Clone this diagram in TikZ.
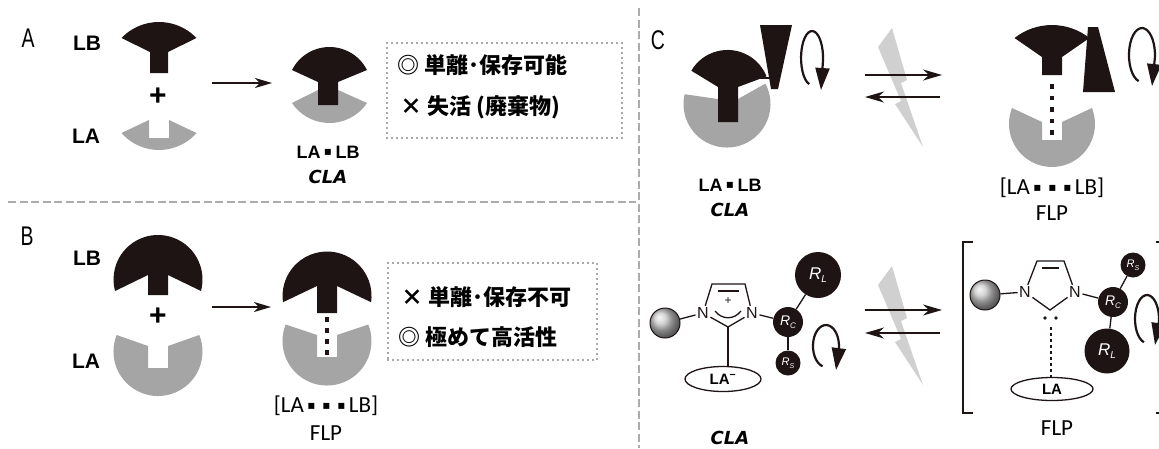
\documentclass[tikz,border=0pt]{standalone}
\usepackage{fontspec}
\setmainfont{Liberation Sans}
\newfontfamily\jpfont{Noto Sans CJK JP}
\newfontfamily\calfont{Carlito}
\newfontfamily\dvfont{DejaVu Sans}
\newfontfamily\panelfont[FakeStretch=0.72]{Liberation Sans}
\usetikzlibrary{arrows.meta,shapes.geometric}

\definecolor{ink}{RGB}{30,20,20}
\definecolor{lagray}{RGB}{165,165,165}
\definecolor{boltgray}{RGB}{208,208,208}
\definecolor{divgray}{RGB}{172,172,172}
\definecolor{boxdot}{RGB}{80,80,80}

\newcommand\fs[1]{\fontsize{#1}{#1}\selectfont}
\newcommand\sqdot{\makebox[15pt]{\raisebox{3pt}{\dvfont\fs{12}▪}}}
\newcommand\lowsub[2]{\raisebox{-3pt}{\fs{#1}#2}}

\begin{document}
\begin{tikzpicture}[x=1pt,y=-1pt,
  panel/.style={font=\panelfont\fs{27}, inner sep=0pt},
  lbl/.style={font=\bfseries\fs{21}, inner sep=0pt},
  cplx/.style={font=\bfseries\fs{18}, inner sep=0pt},
  flp/.style={font=\calfont\fs{23}, inner sep=0pt},
  cla/.style={font=\dvfont\bfseries\itshape\fs{18}, inner sep=0pt},
  jp/.style={font=\jpfont\bfseries\fs{22}, inner sep=0pt, anchor=west},
  dotbox/.style={draw=boxdot, line width=1.6pt, dash pattern=on 0pt off 5pt, line cap=round, inner sep=0pt},
  divider/.style={draw=divgray, line width=2.4pt, dash pattern=on 8pt off 3.5pt},
  rxn/.style={draw=ink, line width=1.5pt, -{Stealth[length=17pt,width=10pt,inset=5pt]}},
  eqarrow/.style={draw=ink, line width=1.5pt, -{Stealth[length=19pt,width=11pt,inset=6pt]}},
  spin/.style={draw=ink, line width=2.2pt, -{Triangle[length=22pt,width=14pt]}},
  bond/.style={draw=ink, line width=1.3pt},
  dotbond/.style={draw=ink, line width=4.5pt},
  atom/.style={font=\fs{16}, inner sep=1.5pt, text=ink},
  sphere/.style={circle, draw=ink, line width=1pt, minimum size=30pt, inner sep=0pt, ball color=black!22},
  grp/.style={circle, fill=ink, inner sep=0pt, text=white},
  acid/.style={ellipse, draw=ink, line width=1.3pt, inner sep=0pt},
  bolt/.style={fill=boltgray}
]
\useasboundingbox (0,0) rectangle (1159,448);
\fill[white] (0,0) rectangle (1159,448);
\clip (0,0) rectangle (1159,448);

% ---------- dividers ----------
\coordinate (hl) at (8,202);
\coordinate (hr) at (636,202);
\draw[divider] (hl) -- (hr);
\coordinate (vt) at (639,8);
\coordinate (vb) at (639,448);
\draw[divider] (vt) -- (vb);

% ---------- panel letters ----------
\node[panel] (pA) at (28,38) {A};
\node[panel] (pB) at (27,236) {B};
\node[panel] (pC) at (658,40) {C};

% ---------- panel A ----------
\node[lbl] (lbA) at (87,43) {LB};
\node[lbl] (laA) at (86,136) {LA};
\node[font=\bfseries\fs{30}, inner sep=0pt] (plusA) at (158,97) {+};
% base (fan) and acid (cup)
\fill[ink] (121.5,38) arc[start angle=-136.2, end angle=-43.8, radius=51.95]
  -- (168,52) -- (168,73) -- (150,73) -- (150,52) -- cycle;
\fill[lagray] (196.5,133) arc[start angle=41.3, end angle=138.7, radius=49.9]
  -- (149,120) -- (149,138) -- (169,138) -- (169,120) -- cycle;
\coordinate (arA1) at (212,83);
\coordinate (arA2) at (272,83);
\draw[rxn] (arA1) -- (arA2);
% adduct
\fill[lagray] (367,103) arc[start angle=33.9, end angle=146.1, radius=45.2]
  -- (318,90) -- (338,90) -- cycle;
\fill[ink] (292,70) arc[start angle=-153.05, end angle=-26.95, radius=42.07]
  -- (338,82) -- (338,105) -- (318,105) -- (318,82) -- cycle;
\node[cplx] (claA) at (328,152) {LA\sqdot LB};
\node[cla] (claAi) at (328,177) {CLA};
\node[dotbox, minimum width=235pt, minimum height=95pt] (boxA) at (504.5,90.5) {};
\node[jp] (tA1) at (397,65) {◎ 単離･保存可能};
\node[jp] (tA2) at (400,107) {× 失活 (廃棄物)};

% ---------- panel B ----------
\node[lbl] (lbB) at (87,258) {LB};
\node[lbl] (laB) at (86,361) {LA};
\node[font=\bfseries\fs{30}, inner sep=0pt] (plusB) at (158,317) {+};
\fill[ink] (201,291) arc[start angle=15, end angle=-195, radius=44.5]
  -- (148,275) -- (148,295) -- (168,295) -- (168,275) -- cycle;
\fill[lagray] (199.3,335) arc[start angle=-21.8, end angle=201.8, radius=44.5]
  -- (148,346) -- (148,368) -- (168,368) -- (168,346) -- cycle;
\coordinate (arB1) at (212,307);
\coordinate (arB2) at (271,307);
\draw[rxn] (arB1) -- (arB2);
% frustrated pair
\fill[lagray] (368.3,324.5) arc[start angle=-21.8, end angle=201.8, radius=44.5]
  -- (317,335) -- (317,357) -- (337,357) -- (337,335) -- cycle;
\fill[ink] (371.1,302.2) arc[start angle=8, end angle=-188, radius=44.5]
  -- (317,286) -- (317,313) -- (337,313) -- (337,286) -- cycle;
\coordinate (dB1) at (327,317);
\coordinate (dB2) at (327,355);
\draw[dotbond, dash pattern=on 4.5pt off 6.5pt] (dB1) -- (dB2);
\node[flp] (flpB1) at (326,406) {[LA\sqdot\sqdot\sqdot LB]};
\node[flp] (flpB2) at (326,433) {FLP};
\node[dotbox, minimum width=209pt, minimum height=97pt] (boxB) at (492.5,311.5) {};
\node[jp] (tB1) at (401,297) {× 単離･保存不可};
\node[jp] (tB2) at (398,337) {◎ 極めて高活性};

% ---------- panel C, cartoon row ----------
% classical adduct with a bulky substituent
\fill[lagray] (765.4,83.6) arc[start angle=-28, end angle=193, radius=43.5]
  -- (718,99) -- (738,99) -- cycle;
\fill[ink] (691.3,70.7) arc[start angle=-149.6, end angle=-21.8, radius=42]
  -- (738,87) -- (738,122) -- (718,122) -- (718,87) -- cycle;
\fill[ink] (760,25) -- (792,25) -- (778,89) -- (771,89) -- cycle;
\coordinate (lk1a) at (758,78);
\coordinate (lk1b) at (775,78);
\draw[ink, line width=2pt] (lk1a) -- (lk1b);
\coordinate (sp1) at (821,90);
\draw[spin] (809.2,84.1) arc[start angle=105, end angle=365, x radius=11, y radius=27] -- (sp1);
\node[cplx] (claC) at (730,185) {LA\sqdot LB};
\node[cla] (claCi) at (730,210) {CLA};

% equilibrium with lightning
\fill[bolt] (892,28) -- (907,80) -- (901,83) -- (923,147) -- (895,104) -- (901,101) -- (878,47) -- cycle;
\coordinate (e1a) at (865,75);
\coordinate (e1b) at (942,75);
\coordinate (e2a) at (940,97);
\coordinate (e2b) at (865,97);
\draw[eqarrow] (e1a) -- (e1b);
\draw[eqarrow] (e2a) -- (e2b);

% frustrated pair with the substituent turned away
\fill[lagray] (1091.9,108) arc[start angle=-21.8, end angle=201.8, radius=43]
  -- (1042,122) -- (1042,140) -- (1062,140) -- (1062,122) -- cycle;
\fill[ink] (1014.5,38) arc[start angle=-128.2, end angle=-51.8, radius=60.6]
  -- (1062,57) -- (1062,75) -- (1042,75) -- (1042,57) -- cycle;
\coordinate (dC1) at (1052,84);
\coordinate (dC2) at (1052,136);
\draw[dotbond, dash pattern=on 4.5pt off 7pt] (dC1) -- (dC2);
\fill[ink] (1088,27) -- (1098,27) -- (1115,92) -- (1083,92) -- cycle;
\coordinate (lk2a) at (1080,39);
\coordinate (lk2b) at (1092,39);
\draw[ink, line width=2pt] (lk2a) -- (lk2b);
\coordinate (sp2) at (1152,86);
\draw[spin] (1138.6,81.1) arc[start angle=105, end angle=365, x radius=13, y radius=27] -- (sp2);
\node[flp] (flpC1) at (1052,188) {[LA\sqdot\sqdot\sqdot LB]};
\node[flp] (flpC2) at (1052,213) {FLP};

% ---------- panel C, molecular row ----------
% imidazolium adduct
\node[sphere] (s1) at (665,323) {};
\node[atom] (n1) at (703,313) {N};
\node[atom] (n3) at (752,313) {N};
\coordinate (c4) at (712,284);
\coordinate (c5) at (745,284);
\coordinate (c2) at (728,327);
\coordinate (db1) at (718,291);
\coordinate (db2) at (739,291);
\draw[bond] (s1) -- (n1);
\draw[bond] (n1) -- (c4) -- (c5) -- (n3);
\draw[bond] (db1) -- (db2);
\draw[bond] (n1) -- (c2) -- (n3);
\coordinate (dl1) at (715,311);
\coordinate (dl2) at (741,311);
\draw[bond] (dl1) .. controls (722,320) and (734,320) .. (dl2);
\node[font=\fs{12}, inner sep=0pt, text=ink] (chg) at (728,301) {+};
\node[acid, minimum width=76pt, minimum height=25pt, font=\bfseries\fs{15}] (lam) at (723,379) {LA\textsuperscript{−}};
\draw[bond] (c2) -- (c2 |- lam.north);
\node[grp, minimum size=30pt, font=\itshape\fs{14}] (rc1) at (788,322) {R\lowsub{8}{C}};
\node[grp, minimum size=46pt, font=\itshape\fs{17}] (rl1) at (818,275) {R\lowsub{10}{L}};
\node[grp, minimum size=25pt, font=\itshape\fs{11}] (rs1) at (788,363) {R\lowsub{7}{S}};
\draw[bond] (n3) -- (rc1);
\draw[bond] (rc1) -- (rl1);
\draw[bond] (rc1) -- (rs1);
\coordinate (sp3) at (836,370);
\draw[spin] (822.6,366.3) arc[start angle=105, end angle=365, x radius=13, y radius=21] -- (sp3);
\node[cla] (claM) at (730,438) {CLA};

% equilibrium with lightning
\begin{scope}[shift={(0,238)}]
\fill[bolt] (892,28) -- (907,80) -- (901,83) -- (923,147) -- (895,104) -- (901,101) -- (878,47) -- cycle;
\end{scope}
\coordinate (e3a) at (865,310);
\coordinate (e3b) at (942,310);
\coordinate (e4a) at (940,333);
\coordinate (e4b) at (865,333);
\draw[eqarrow] (e3a) -- (e3b);
\draw[eqarrow] (e4a) -- (e4b);

% free carbene and acid
\coordinate (bk1) at (973,242);
\coordinate (bk2) at (963,242);
\coordinate (bk3) at (963,413);
\coordinate (bk4) at (973,413);
\draw[bond, line width=1.5pt] (bk1) -- (bk2) -- (bk3) -- (bk4);
\coordinate (bk5) at (1156,242);
\coordinate (bk6) at (1163,242);
\coordinate (bk7) at (1163,413);
\coordinate (bk8) at (1156,413);
\draw[bond, line width=1.5pt] (bk5) -- (bk6) -- (bk7) -- (bk8);
\node[sphere] (s2) at (985,295) {};
\node[atom] (n4) at (1025,292) {N};
\node[atom] (n6) at (1075,292) {N};
\coordinate (c7) at (1037,261);
\coordinate (c8) at (1064,261);
\coordinate (c9) at (1050,310);
\coordinate (db3) at (1042,268);
\coordinate (db4) at (1059,268);
\draw[bond] (s2) -- (n4);
\draw[bond] (n4) -- (c7) -- (c8) -- (n6);
\draw[bond] (db3) -- (db4);
\draw[bond] (n4) -- (c9) -- (n6);
\node[circle, fill=ink, inner sep=0pt, minimum size=3.8pt] (lp1) at (1045,318) {};
\node[circle, fill=ink, inner sep=0pt, minimum size=3.8pt] (lp2) at (1056,318) {};
\node[acid, minimum width=82pt, minimum height=23pt, font=\bfseries\fs{15}] (la2) at (1052,389) {LA};
\coordinate (dsh) at (1051,327);
\draw[bond, line width=1.5pt, dash pattern=on 3pt off 3pt] (dsh) -- (dsh |- la2.north);
\node[grp, minimum size=30pt, font=\itshape\fs{14}] (rc2) at (1113,302) {R\lowsub{8}{C}};
\node[grp, minimum size=25pt, font=\itshape\fs{11}] (rs2) at (1133,265) {R\lowsub{7}{S}};
\node[grp, minimum size=45pt, font=\itshape\fs{17}] (rl2) at (1107,351) {R\lowsub{10}{L}};
\draw[bond] (n6) -- (rc2);
\draw[bond] (rc2) -- (rs2);
\draw[bond] (rc2) -- (rl2);
\coordinate (sp4) at (1155,345);
\draw[spin] (1143.9,342.2) arc[start angle=105, end angle=365, x radius=12, y radius=24] -- (sp4);
\node[flp] (flpM) at (1057,428) {FLP};
\end{tikzpicture}
\end{document}
